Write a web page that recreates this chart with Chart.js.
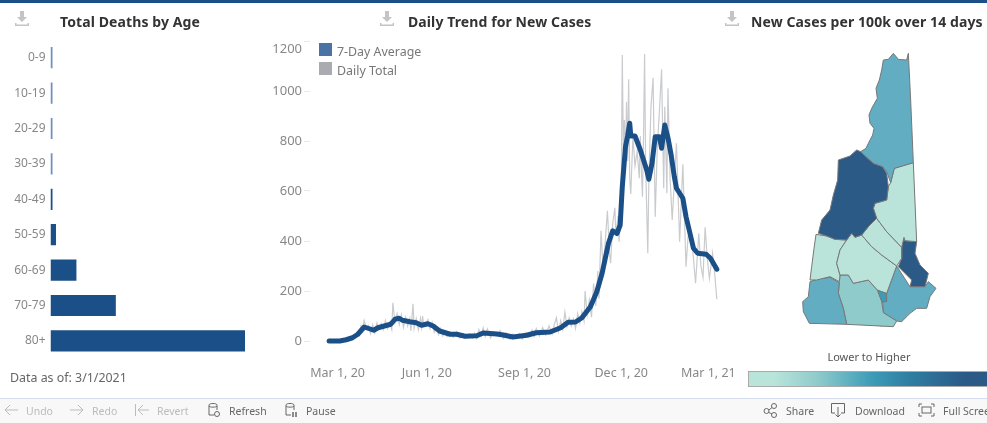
<!DOCTYPE html>
<html>
<head>
<meta charset="utf-8">
<title>New Hampshire COVID-19</title>
<script src="https://cdn.jsdelivr.net/npm/chart.js@4"></script>
<style>
    html, body { margin: 0; padding: 0; background: #fff; }
    body { position: relative; width: 987px; height: 423px; overflow: hidden; font-family: "Noto Sans", sans-serif; }
    canvas { position: absolute; top: 0; }
    .topbar { position: absolute; left: 0; top: 0; width: 987px; height: 3px; background: #1b4f87; }
    .title { position: absolute; top: 12px; font-size: 14px; font-weight: 700; color: #333; white-space: nowrap; line-height: 20px; letter-spacing: 0.1px; }
    .dl { position: absolute; top: 10px; }
    .swatch { position: absolute; left: 319px; width: 13px; height: 13px; }
    .legend { position: absolute; left: 337px; font-size: 12.4px; color: #777; line-height: 16px; white-space: nowrap; }
    .asof { position: absolute; left: 10px; top: 370px; font-size: 12.4px; color: #666; line-height: 16px; }
    .ramp-label { position: absolute; left: 748px; width: 242px; top: 350px; text-align: center; font-size: 11px; color: #555; line-height: 14px; }
    .ramp { position: absolute; left: 748px; top: 371px; width: 245px; height: 14px; border: 1px solid #aaa; background: linear-gradient(to right, #b9e4da 0%, #b9e4da 10%, #8fcbcb 28%, #3d9cb8 50%, #2f7fa3 65%, #2b5a87 88%); }
    .toolbar { position: absolute; left: 0; top: 398px; width: 987px; height: 25px; background: #f8f8f8; border-top: 1px solid #d5dcef; box-sizing: border-box; }
    .tool { position: absolute; top: 5px; font-size: 10.5px; line-height: 15px; color: #666; white-space: nowrap; }
    .tool.off { color: #bbb; }
    .toolbar svg { position: absolute; top: 3px; }
</style>
</head>
<body>
<canvas id="deathsChart" width="262" height="398" style="left:0"></canvas>
<canvas id="trendChart" width="475" height="398" style="left:262px"></canvas>
<canvas id="mapChart" width="247" height="398" style="left:740px"></canvas>

<div class="topbar"></div>

<svg class="dl" style="left:14px" width="16" height="17" viewBox="0 0 16 17"><path d="M6 1h4v6h3l-5 5-5-5h3zM1 13v3h14v-3h-1.5v1.5h-11V13z" fill="#c4c4c4"/></svg>
<svg class="dl" style="left:379px" width="16" height="17" viewBox="0 0 16 17"><path d="M6 1h4v6h3l-5 5-5-5h3zM1 13v3h14v-3h-1.5v1.5h-11V13z" fill="#c4c4c4"/></svg>
<svg class="dl" style="left:724px" width="16" height="17" viewBox="0 0 16 17"><path d="M6 1h4v6h3l-5 5-5-5h3zM1 13v3h14v-3h-1.5v1.5h-11V13z" fill="#c4c4c4"/></svg>

<div class="title" style="left:60px">Total Deaths by Age</div>
<div class="title" style="left:408px">Daily Trend for New Cases</div>
<div class="title" style="left:751px">New Cases per 100k over 14 days</div>

<div class="swatch" style="top:43px;background:#4a72a5"></div>
<div class="legend" style="top:44px">7-Day Average</div>
<div class="swatch" style="top:62px;background:#a9abb0"></div>
<div class="legend" style="top:63px">Daily Total</div>

<div class="asof">Data as of: 3/1/2021</div>
<div class="ramp-label">Lower to Higher</div>
<div class="ramp"></div>

<div class="toolbar">
    <svg style="left:3px" width="16" height="16" viewBox="0 0 16 16"><path d="M15 8H2M7 3L2 8l5 5" fill="none" stroke="#bbb"/></svg>
    <div class="tool off" style="left:26px">Undo</div>
    <svg style="left:69px" width="16" height="16" viewBox="0 0 16 16"><path d="M1 8h13M9 3l5 5-5 5" fill="none" stroke="#bbb"/></svg>
    <div class="tool off" style="left:92px">Redo</div>
    <svg style="left:134px" width="16" height="16" viewBox="0 0 16 16"><path d="M1.5 2v12M15 8H4M9 3L4 8l5 5" fill="none" stroke="#bbb"/></svg>
    <div class="tool off" style="left:157px">Revert</div>
    <svg style="left:206px" width="16" height="16" viewBox="0 0 16 16"><path d="M8 13H3V3c0-2 8-2 8 0v5M3 4c0 1.500 8 1.500 8 0" fill="none" stroke="#666"/><circle cx="11" cy="12" r="2.500" fill="none" stroke="#666"/></svg>
    <div class="tool" style="left:229px">Refresh</div>
    <svg style="left:283px" width="16" height="16" viewBox="0 0 16 16"><path d="M8 13H3V3c0-2 8-2 8 0v5M3 4c0 1.500 8 1.500 8 0" fill="none" stroke="#666"/><path d="M10 10v5M13 10v5" stroke="#666" stroke-width="1.500"/></svg>
    <div class="tool" style="left:306px">Pause</div>
    <svg style="left:763px" width="16" height="16" viewBox="0 0 16 16"><circle cx="3.500" cy="9" r="2.500" fill="none" stroke="#666"/><circle cx="11" cy="4" r="2.500" fill="none" stroke="#666"/><circle cx="11" cy="13" r="2.500" fill="none" stroke="#666"/><path d="M6 8l3-2.500M6 10.500l3 1.500" stroke="#666"/></svg>
    <div class="tool" style="left:786px">Share</div>
    <svg style="left:830px" width="16" height="16" viewBox="0 0 16 16"><path d="M5 11H1.500V1.500h13V11H11M8 5v10M5.500 12.500L8 15l2.500-2.500" fill="none" stroke="#666"/></svg>
    <div class="tool" style="left:855px">Download</div>
    <svg style="left:918px" width="17" height="16" viewBox="0 0 17 16"><path d="M1 5V2h3M13 2h3v3M1 11v3h3M13 14h3v-3" fill="none" stroke="#666"/><rect x="4" y="5" width="9" height="6" fill="none" stroke="#666"/></svg>
    <div class="tool" style="left:943px">Full Screen</div>
</div>

<script>
Chart.defaults.font.family = '"Noto Sans", sans-serif';
Chart.defaults.animation = false;

// Total deaths by age
const ageGroups = ['0-9', '10-19', '20-29', '30-39', '40-49', '50-59', '60-69', '70-79', '80+'];
const ageDeaths = [0, 0, 0, 1, 8, 22, 104, 262, 780];

// Daily trend, x is days since Mar 1, 2020
const avgDays = [0, 10, 16, 22, 27, 33, 38, 42, 46, 52, 58, 62, 66, 69, 76, 82, 87, 93, 98, 104, 114, 120, 128, 139, 145, 158, 164, 173, 186, 195, 208, 218, 225, 232, 238, 246, 252, 257, 263, 267, 271, 274, 276, 279, 281, 283, 284, 288, 293, 296, 299, 301, 304, 307, 311, 313, 316, 319, 322, 325, 327, 333, 336, 339, 343, 347, 355, 359, 365];
const avgValues = [0, 0, 5, 13, 27, 56, 49, 43, 53, 60, 67, 87, 91, 83, 77, 73, 63, 69, 60, 40, 27, 27, 19, 21, 32, 28, 24, 16, 23, 33, 36, 53, 75, 76, 93, 137, 197, 271, 391, 441, 430, 464, 617, 777, 820, 871, 820, 820, 764, 724, 684, 647, 711, 817, 817, 771, 864, 813, 744, 657, 611, 571, 497, 444, 371, 351, 347, 331, 287];
const dailyDays = [0, 5, 10, 14, 17, 20, 23, 26, 28, 30, 31, 33, 35, 37, 39, 41, 43, 45, 47, 49, 51, 53, 55, 57, 59, 60, 62, 64, 66, 68, 70, 72, 74, 76, 77, 79, 80, 82, 84, 86, 87, 88, 89, 91, 93, 95, 97, 99, 101, 103, 105, 107, 109, 111, 114, 117, 120, 123, 126, 129, 132, 135, 137, 139, 141, 143, 145, 147, 149, 152, 155, 158, 161, 164, 167, 170, 173, 176, 179, 182, 185, 188, 191, 193, 195, 198, 201, 204, 207, 210, 212, 214, 216, 218, 220, 222, 224, 226, 228, 230, 232, 234, 236, 238, 240, 241, 243, 245, 247, 249, 251, 253, 254, 256, 258, 260, 262, 264, 265, 267, 269, 270, 272, 273, 275, 276, 277, 278, 279, 280, 281, 282, 283, 284, 286, 288, 290, 292, 293, 294, 295, 296, 297, 298, 300, 301, 303, 305, 307, 309, 311, 313, 315, 316, 318, 319, 321, 323, 325, 327, 330, 333, 336, 338, 341, 343, 345, 348, 350, 352, 354, 356, 358, 361, 363, 365];
const dailyValues = [0, 1, 2, 6, 3, 18, 9, 32, 20, 60, 40, 82, 50, 62, 30, 65, 32, 72, 48, 70, 45, 82, 50, 75, 45, 153, 75, 110, 65, 105, 55, 95, 60, 90, 40, 149, 50, 90, 45, 90, 55, 100, 60, 65, 85, 50, 75, 35, 55, 25, 50, 20, 40, 18, 35, 15, 38, 12, 30, 14, 28, 12, 32, 10, 45, 20, 52, 18, 48, 12, 38, 22, 42, 10, 32, 8, 28, 12, 30, 8, 34, 16, 44, 18, 50, 20, 54, 24, 60, 28, 66, 93, 38, 82, 46, 116, 58, 92, 60, 88, 50, 110, 72, 118, 80, 200, 105, 165, 95, 230, 140, 280, 170, 441, 280, 400, 521, 350, 311, 470, 533, 420, 500, 397, 600, 1144, 760, 884, 724, 957, 720, 1047, 650, 588, 817, 700, 760, 651, 820, 680, 577, 820, 1148, 700, 351, 640, 937, 1053, 497, 780, 924, 1087, 611, 937, 591, 1011, 650, 484, 640, 791, 397, 707, 297, 420, 431, 330, 231, 431, 300, 255, 455, 330, 251, 351, 270, 167];
const yTickValues = [0, 200, 400, 600, 800, 1000, 1200];
const xTickDays = [8, 92, 184, 275, 357]; // end labels sit inside the pane, like Tableau does
const xTickLabels = ['Mar 1, 20', 'Jun 1, 20', 'Sep 1, 20', 'Dec 1, 20', 'Mar 1, 21'];

// County outlines in map units (y grows downwards)
const coos = [[505,160],[512,300],[520,488],[490,497],[463,505],[452,548],[440,515],[428,500],[400,490],[362,455],[378,445],[385,430],[398,405],[402,385],[390,370],[387,345],[395,325],[412,295],[408,265],[418,240],[425,210],[430,180],[445,178],[460,160],[475,178],[500,180]];
const grafton = [[350,450],[362,455],[400,490],[428,500],[440,520],[445,560],[440,600],[405,610],[400,625],[410,655],[385,680],[365,705],[345,712],[335,700],[320,720],[285,718],[260,708],[235,700],[245,660],[270,630],[280,585],[293,540],[295,480],[330,468]];
const carroll = [[452,548],[463,505],[490,497],[520,488],[530,725],[495,722],[492,712],[485,742],[440,695],[410,655],[400,625],[405,610],[440,600],[445,560]];
const belknap = [[410,655],[440,695],[485,742],[485,775],[470,798],[425,765],[395,740],[365,705],[385,680]];
const merrimack = [[345,712],[365,705],[395,740],[425,765],[470,798],[440,880],[412,870],[385,840],[340,850],[325,825],[300,825],[290,790],[300,750],[320,720],[335,700]];
const strafford = [[490,715],[495,722],[530,725],[525,760],[540,795],[565,820],[555,860],[510,860],[515,840],[475,800],[485,775],[485,745]];
const sullivan = [[228,703],[260,708],[285,718],[320,720],[300,750],[290,790],[300,825],[298,845],[270,830],[230,840],[210,840],[215,800],[222,745]];
const cheshire = [[210,845],[230,838],[270,832],[298,848],[295,880],[310,925],[320,973],[208,970],[190,935],[188,905],[205,890]];
const hillsborough = [[298,845],[300,825],[325,825],[340,850],[385,840],[412,870],[425,905],[430,938],[470,963],[460,980],[320,973],[310,925],[295,880]];
const rockingham = [[470,798],[510,860],[555,860],[565,845],[588,865],[570,890],[560,925],[530,925],[510,940],[485,965],[470,963],[430,938],[428,905],[440,905],[440,880]];
const manchester = [[412,870],[440,880],[440,905],[422,908]];
const nashua = [[403,950],[425,947],[428,978],[405,975]];
const countyShapes = [coos, grafton, carroll, belknap, merrimack, strafford, sullivan, cheshire, hillsborough, rockingham, manchester, nashua];
const countyColors = ['#63adc2', '#2b5a87', '#bae4da', '#bae4da', '#bae4da', '#2b5a87', '#bae4da', '#63adc2', '#8fcbcb', '#63adc2', '#3c9cb8', '#63adc2'];

function zip(xs, ys) {
    return xs.map((x, i) => ({ x: x, y: ys[i] }));
}

function renderCharts() {
    // Deaths by age
    new Chart(document.getElementById('deathsChart').getContext('2d'), {
        type: 'bar',
        data: {
            labels: ageGroups,
            datasets: [{
                data: ageDeaths,
                // sliver bars read paler in the original
                backgroundColor: ageDeaths.map(v => v < 2 ? '#6f8fbf' : '#1b4f87'),
                barPercentage: 0.6,
                categoryPercentage: 1,
                minBarLength: 2
            }]
        },
        options: {
            indexAxis: 'y',
            responsive: false,
            layout: { padding: { top: 40, bottom: 39.4, right: 17 } },
            plugins: { legend: { display: false }, tooltip: { enabled: false } },
            scales: {
                x: { display: false, min: 0, max: 780 },
                y: {
                    afterFit: scale => { scale.width = 50.5; },
                    grid: { display: false, drawTicks: false },
                    border: { display: false },
                    ticks: { color: '#888', padding: 5, font: { size: 12 } }
                }
            }
        }
    });

    // Daily trend
    new Chart(document.getElementById('trendChart').getContext('2d'), {
        type: 'scatter',
        data: {
            datasets: [
                {
                    label: '7-Day Average',
                    data: zip(avgDays, avgValues),
                    showLine: true,
                    pointRadius: 0,
                    borderColor: '#1b4f87',
                    borderWidth: 5,
                    borderJoinStyle: 'round',
                    borderCapStyle: 'round'
                },
                {
                    label: 'Daily Total',
                    data: zip(dailyDays, dailyValues),
                    showLine: true,
                    pointRadius: 0,
                    borderColor: '#c9cbce',
                    borderWidth: 1.2
                }
            ]
        },
        options: {
            responsive: false,
            layout: { padding: { top: 41 } },
            plugins: { legend: { display: false }, tooltip: { enabled: false } },
            scales: {
                x: {
                    min: -18,
                    max: 384,
                    afterFit: scale => {
                        scale.height = 40;
                        // label overhang must not shrink the plot area
                        scale.paddingLeft = 0;
                        scale.paddingRight = 0;
                    },
                    afterBuildTicks: scale => { scale.ticks = xTickDays.map(v => ({ value: v })); },
                    grid: { display: false, drawTicks: false },
                    border: { display: false },
                    ticks: {
                        color: '#888',
                        padding: 8,
                        maxRotation: 0,
                        autoSkip: false,
                        font: { size: 12.5 },
                        callback: (value, i) => xTickLabels[i]
                    }
                },
                y: {
                    min: -68,
                    max: 1200,
                    afterFit: scale => { scale.width = 48; },
                    afterBuildTicks: scale => { scale.ticks = yTickValues.map(v => ({ value: v })); },
                    grid: { drawOnChartArea: false, color: '#e8e8e8', tickLength: 6 },
                    border: { display: false },
                    ticks: {
                        color: '#888',
                        padding: 2,
                        autoSkip: false,
                        font: { size: 13 },
                        // top label is pushed down one half line to stay in the pane
                        callback: value => value === 1200 ? ['', '1200'] : String(value)
                    }
                }
            }
        }
    });

    // County map
    new Chart(document.getElementById('mapChart').getContext('2d'), {
        type: 'scatter',
        data: {
            datasets: countyShapes.map((shape, i) => ({
                data: shape.concat([shape[0]]).map(p => ({ x: p[0], y: p[1] })),
                showLine: true,
                fill: 'shape',
                pointRadius: 0,
                backgroundColor: countyColors[i],
                borderColor: '#777',
                borderWidth: 1
            }))
        },
        options: {
            responsive: false,
            plugins: { legend: { display: false }, tooltip: { enabled: false } },
            scales: {
                x: { display: false, min: 0, max: 741 },
                y: { display: false, min: 0, max: 1194, reverse: true }
            }
        }
    });
}

document.addEventListener('DOMContentLoaded', () => {
    renderCharts();
});
</script>
</body>
</html>
